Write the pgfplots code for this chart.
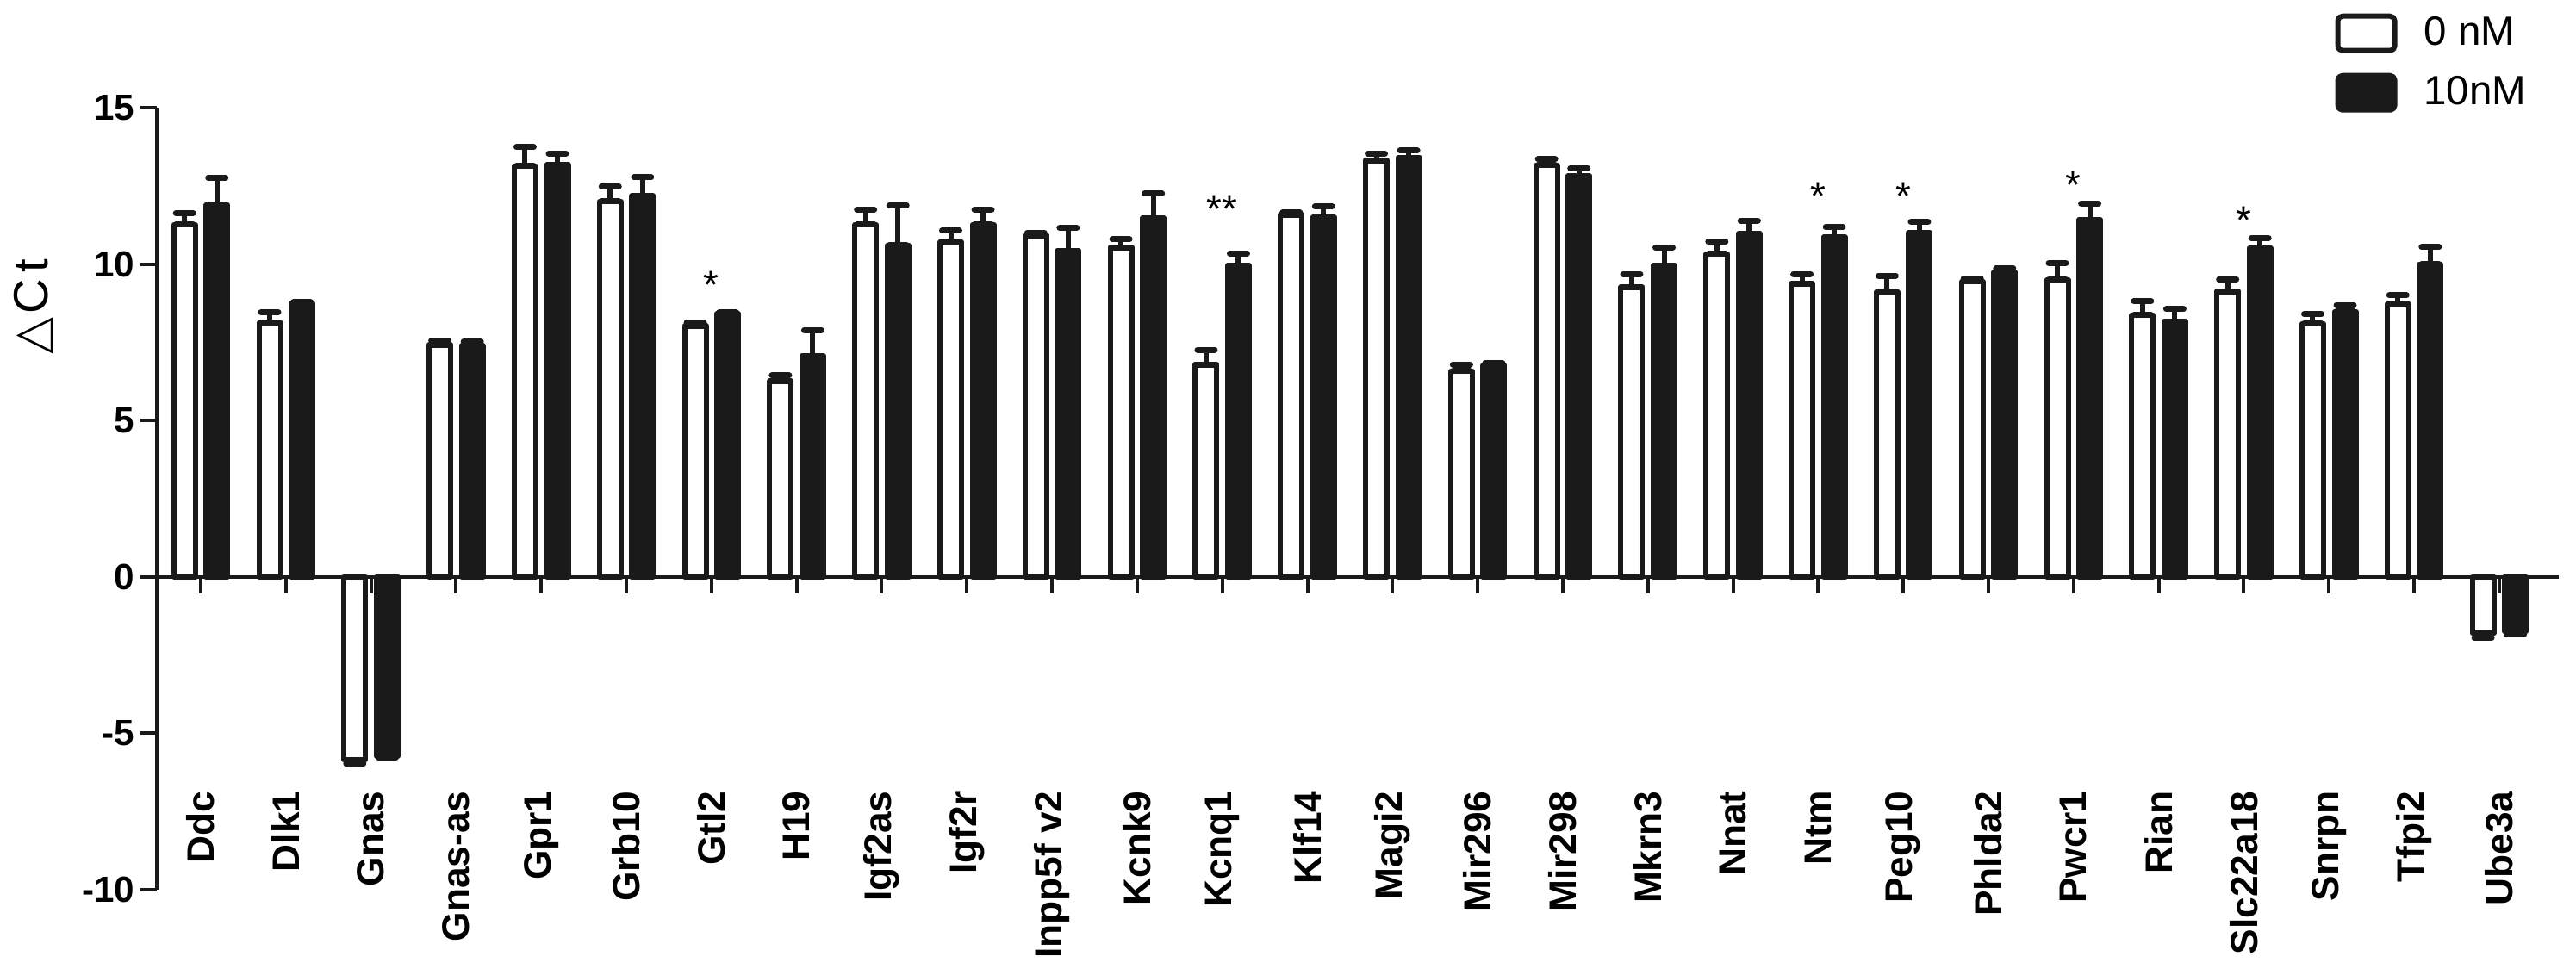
\documentclass[border=0pt]{standalone}
\usepackage{fontspec}
\setmainfont{Liberation Sans}
\newfontfamily\djv{DejaVu Sans}
\usepackage{pgfplots}
\usepackage{pgfplotstable}
\pgfplotsset{compat=1.18}
\definecolor{ink}{RGB}{26,26,26}

% x: gene index, w: 0 nM, b: 10nM, p/m: error up/down
\pgfplotstableread{
x  w      wp    wm    b      bp    bm
0  11.26  0.37  0     11.89  0.87  0
1  8.13   0.33  0     8.74   0.04  0
2  -5.85  0     0.12  -5.72  0     0.06
3  7.42   0.13  0     7.39   0.13  0
4  13.14  0.60  0     13.18  0.35  0
5  12.00  0.47  0     12.18  0.59  0
6  8.03   0.11  0     8.42   0.03  0
7  6.26   0.18  0     7.07   0.82  0
8  11.26  0.48  0     10.60  1.27  0
9  10.71  0.36  0     11.26  0.48  0
10 10.92  0.08  0     10.42  0.74  0
11 10.53  0.26  0     11.47  0.79  0
12 6.79   0.47  0     9.95   0.39  0
13 11.58  0.07  0     11.49  0.35  0
14 13.32  0.21  0     13.39  0.24  0
15 6.58   0.21  0     6.76   0.08  0
16 13.16  0.19  0     12.82  0.25  0
17 9.26   0.42  0     9.95   0.58  0
18 10.32  0.39  0     10.97  0.42  0
19 9.37   0.31  0     10.86  0.32  0
20 9.11   0.52  0     11.00  0.35  0
21 9.45   0.08  0     9.74   0.13  0
22 9.50   0.53  0     11.42  0.51  0
23 8.37   0.45  0     8.17   0.39  0
24 9.13   0.38  0     10.51  0.32  0
25 8.10   0.30  0     8.48   0.21  0
26 8.72   0.28  0     10.00  0.54  0
27 -1.80  0     0.15  -1.75  0     0.08
}\ctdata

\begin{document}
\begin{tikzpicture}
\begin{axis}[
  at={(0,0)}, anchor=south west,
  scale only axis, width=27.88cm, height=9.08cm,
  xmin=-0.516, xmax=27.7, ymin=-10, ymax=15,
  clip=false,
  axis y line*=left, axis x line*=middle,
  axis line style={line width=0.045cm, ink},
  ytick={-10,-5,0,5,10,15}, yticklabels={-10,-5,0,5,10,15},
  xtick={0,...,27},
  xticklabels={Ddc,Dlk1,Gnas,Gnas-as,Gpr1,Grb10,Gtl2,H19,Igf2as,Igf2r,Inpp5f v2,Kcnk9,Kcnq1,Klf14,Magi2,Mir296,Mir298,Mkrn3,Nnat,Ntm,Peg10,Phlda2,Pwcr1,Rian,Slc22a18,Snrpn,Tfpi2,Ube3a},
  tick style={line width=0.04cm, ink},
  tick align=outside, major tick length=0.19cm,
  yticklabel style={font=\fontsize{12}{14}\selectfont\bfseries, inner sep=0pt, anchor=east},
  yticklabel shift=0.06cm,
  xticklabel style={font=\fontsize{12.6}{14}\selectfont\bfseries, rotate=90, anchor=east, inner sep=0pt},
  xticklabel shift=2.29cm,
  every axis y label/.style={at={(axis description cs:-0.051,0.745)}, rotate=90, anchor=center},
  ylabel={\fontsize{16}{18}\selectfont{\djv △}\hspace{0.04cm}C\hspace{0.07cm}t},
  ybar, bar width=0.253,
  legend style={at={(axis description cs:0.9067,1.1211)}, anchor=north west,
    draw=none, fill=none, inner sep=0pt, row sep=0.23cm,
    font=\fontsize{13.5}{15}\selectfont, nodes={inner sep=0pt}},
  legend cell align=left,
]
\addplot[bar shift=-0.19, fill=white, draw=ink, line width=0.06cm, line join=round,
  legend image code/.code={\draw[ink, fill=white, line width=0.06cm, rounded corners=1.5pt] (0.03cm,-0.2cm) rectangle (0.69cm,0.2cm); \path[draw=none, fill=none] (0.72cm,0) -- (1.03cm,0);},
  error bars/.cd, y dir=both, y explicit,
  error bar style={line width=0.06cm, ink},
  error mark options={rotate=90, ink, line width=0.07cm, mark size=0.1cm, line cap=round}]
  table[x=x, y=w, y error plus=wp, y error minus=wm]{\ctdata};
\addlegendentry{0 nM}
\addplot[bar shift=0.19, fill=ink, draw=ink, line width=0.06cm, line join=round,
  legend image code/.code={\draw[ink, fill=ink, line width=0.06cm, rounded corners=1.5pt] (0.03cm,-0.2cm) rectangle (0.69cm,0.2cm); \path[draw=none, fill=none] (0.72cm,0) -- (1.03cm,0);},
  error bars/.cd, y dir=both, y explicit,
  error bar style={line width=0.06cm, ink},
  error mark options={rotate=90, ink, line width=0.07cm, mark size=0.1cm, line cap=round}]
  table[x=x, y=b, y error plus=bp, y error minus=bm]{\ctdata};
\addlegendentry{10nM}
% significance marks
\node[font=\fontsize{13}{14}\selectfont, anchor=base] at (axis cs:6,8.91) {*};
\node[font=\fontsize{13}{14}\selectfont, anchor=base] at (axis cs:12,11.33) {**};
\node[font=\fontsize{13}{14}\selectfont, anchor=base] at (axis cs:19,11.75) {*};
\node[font=\fontsize{13}{14}\selectfont, anchor=base] at (axis cs:20,11.75) {*};
\node[font=\fontsize{13}{14}\selectfont, anchor=base] at (axis cs:22,12.1) {*};
\node[font=\fontsize{13}{14}\selectfont, anchor=base] at (axis cs:24,10.98) {*};
\end{axis}
\pgfresetboundingbox
\path[use as bounding box] (-1.82cm,-0.98cm) rectangle (28.08cm,10.33cm);
\end{tikzpicture}
\end{document}
